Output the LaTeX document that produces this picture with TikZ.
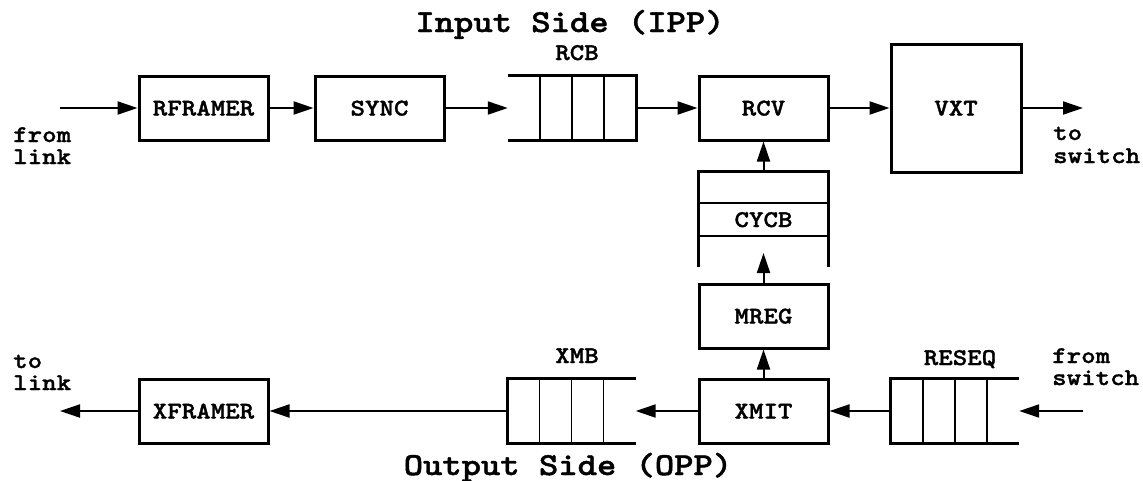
\documentclass[tikz,border=0pt]{standalone}
\usepackage{fontspec}
\usetikzlibrary{arrows.meta}
\newfontfamily\cour{lmmonolt10-bold}[Extension=.otf,FakeStretch=1.15,FakeBold=1.3]
\begin{document}
\begin{tikzpicture}[x=1pt,y=-1pt,
  box/.style={draw, line width=3pt, minimum width=129pt, minimum height=64pt, inner sep=0pt,
    font=\cour\fontsize{24}{26}\selectfont, text height=15pt, text depth=0pt},
  qarea/.style={minimum width=128pt, minimum height=64pt, inner sep=0pt},
  lbl/.style={font=\cour\fontsize{24}{26}\selectfont, inner sep=0pt},
  ttl/.style={font=\cour\fontsize{32}{34}\selectfont, inner sep=0pt},
  arr/.style={line width=2pt, -{Triangle[length=20pt,width=13pt]}},
  edge3/.style={line width=3pt, line join=miter},
  cell/.style={line width=1.6pt}]
\useasboundingbox (0,0) rectangle (1143,480);

% ---- input side ----
\node[box] (rfr) at (203.5,108) {RFRAMER};
\node[box] (sync) at (379.5,108) {SYNC};
\node[qarea] (rcb) at (572,108) {};
\node[box] (rcv) at (763.5,108) {RCV};
\node[box, minimum width=130pt, minimum height=128pt] (vxt) at (956,108) {VXT};
\node[qarea, minimum width=129pt, minimum height=95pt, font=\cour\fontsize{24}{26}\selectfont,
      text height=15pt, text depth=0pt] (cycb) at (763.5,219.5) {CYCB};
\node[box] (mreg) at (763.5,316) {MREG};

% ---- output side ----
\node[box] (xmit) at (763.5,411) {XMIT};
\node[qarea] (reseq) at (955,411) {};
\node[qarea] (xmb) at (571.5,411) {};
\node[box] (xfr) at (203.5,411) {XFRAMER};

% queue RCB (open left, closed right)
\draw[edge3] (rcb.north west) -- (rcb.north east) -- (rcb.south east) -- (rcb.south west);
\foreach \d in {32,64,96}
  \draw[cell] ([xshift=-\d pt]rcb.north east) -- ([xshift=-\d pt]rcb.south east);

% queue RESEQ (closed left, open right)
\draw[edge3] (reseq.north east) -- (reseq.north west) -- (reseq.south west) -- (reseq.south east);
\foreach \d in {32,64,96}
  \draw[cell] ([xshift=\d pt]reseq.north west) -- ([xshift=\d pt]reseq.south west);

% queue XMB (closed left, open right)
\draw[edge3] (xmb.north east) -- (xmb.north west) -- (xmb.south west) -- (xmb.south east);
\foreach \d in {32,64,96}
  \draw[cell] ([xshift=\d pt]xmb.north west) -- ([xshift=\d pt]xmb.south west);

% queue CYCB (closed top, open bottom)
\draw[edge3] (cycb.south west) -- (cycb.north west) -- (cycb.north east) -- (cycb.south east);
\draw[cell] ([yshift=-31pt]cycb.north west) -- ([yshift=-31pt]cycb.north east);
\draw[cell] ([yshift=-64pt]cycb.north west) -- ([yshift=-64pt]cycb.north east);

% free ends
\coordinate (inL) at (60,108);
\coordinate (outR) at (1083,108);
\coordinate (cyin) at (763.5,253);
\coordinate (inR) at (1083,411);
\coordinate (outL) at (60,411);

% connectors
\draw[arr] (inL) -- (rfr.west);
\draw[arr] (rfr.east) -- (sync.west);
\draw[arr] (sync.east) -- (rcb.west);
\draw[arr] (rcb.east) -- (rcv.west);
\draw[arr] (rcv.east) -- (vxt.west);
\draw[arr] (vxt.east) -- (outR);
\draw[arr] (cycb.north) -- (rcv.south);
\draw[arr] (mreg.north) -- (cyin);
\draw[arr] (xmit.north) -- (mreg.south);
\draw[arr] (inR) -- (reseq.east);
\draw[arr] (reseq.west) -- (xmit.east);
\draw[arr] (xmit.west) -- (xmb.east);
\draw[arr] (xmb.west) -- (xfr.east);
\draw[arr] (xfr.west) -- (outL);

% labels
\node[ttl, anchor=base] (tin) at (570,32) {Input Side (IPP)};
\node[ttl, anchor=base] (tout) at (568,475) {Output Side (OPP)};
\node[lbl, anchor=base] (rcbl) at (577,60) {RCB};
\node[lbl, anchor=base] (xmbl) at (577,363) {XMB};
\node[lbl, anchor=base] (reseql) at (960,365) {RESEQ};
\node[lbl, anchor=base west] (fl1) at (13,142) {from};
\node[lbl, anchor=base west] (fl2) at (13,164) {link};
\node[lbl, anchor=base west] (ts1) at (1053,140) {to};
\node[lbl, anchor=base west] (ts2) at (1053,163) {switch};
\node[lbl, anchor=base west] (tl1) at (13,368) {to};
\node[lbl, anchor=base west] (tl2) at (13,390) {link};
\node[lbl, anchor=base west] (fs1) at (1052,363) {from};
\node[lbl, anchor=base west] (fs2) at (1052,385) {switch};
\end{tikzpicture}
\end{document}
